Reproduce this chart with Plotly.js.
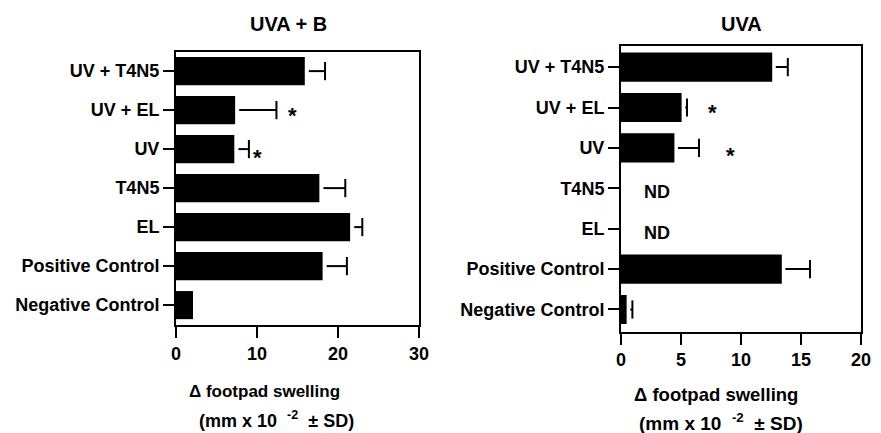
<!DOCTYPE html>
<html>
<head>
<meta charset="utf-8">
<script src="https://cdn.plot.ly/plotly-3.0.1.min.js"></script>
<style>html,body{margin:0;padding:0;background:#fff;}#chart{width:881px;height:433px;}</style>
</head>
<body>
<div id="chart"></div>
<script>
// ---- data ----
const categories = ["UV + T4N5", "UV + EL", "UV", "T4N5", "EL", "Positive Control", "Negative Control"];
const uvabMeans = [15.9, 7.3, 7.2, 17.7, 21.5, 18.1, 2.1];
const uvabSD = [2.5, 5.1, 1.8, 3.2, 1.5, 3.0, null];
const uvaMeans = [12.6, 5.05, 4.45, null, null, 13.4, 0.47];
const uvaSD = [1.3, 0.45, 2.05, null, null, 2.35, 0.48];
const uvabStarCats = ["UV + EL", "UV"];
const uvabStarX = [14.4, 10.1];
const uvaStarCats = ["UV + EL", "UV"];
const uvaStarX = [7.6, 9.1];
const uvaNDCats = ["T4N5", "EL"];
const ndX = 3;
const titles = ["UVA + B", "UVA"];
const xTitle1 = "Δ footpad swelling";
const xTitle2 = "(mm x 10\u00A0 <sup>-2</sup>\u00A0 ± SD)";

// ---- styles ----
const FONT = "Liberation Sans, Arial, Helvetica, sans-serif";
const f = (s) => ({family: FONT, size: s, color: "#000", weight: "bold"});

function barTrace(means, xa, ya) {
  return {type: "bar", orientation: "h", x: means, y: categories, xaxis: xa, yaxis: ya,
    marker: {color: "#000", line: {width: 0}}, width: 0.72, hoverinfo: "skip"};
}
// error bar drawn from a small gap after the bar end to mean + SD, with an end cap
function errTrace(means, sds, gapUnits, xa, ya) {
  const ends = means.map((m, i) => (m === null || sds[i] === null) ? null : m + sds[i]);
  const minus = sds.map(s => s === null ? null : Math.max(s - gapUnits, 0));
  return {type: "scatter", mode: "markers", x: ends, y: categories, xaxis: xa, yaxis: ya,
    marker: {symbol: "line-ns", size: 13, color: "#000", line: {color: "#000", width: 2}},
    error_x: {type: "data", symmetric: false, array: sds.map(s => s === null ? null : 0),
      arrayminus: minus, color: "#000", thickness: 2, width: 0},
    hoverinfo: "skip", cliponaxis: false};
}

const traces = [
  barTrace(uvabMeans, "x", "y"),
  errTrace(uvabMeans, uvabSD, 0.5, "x", "y"),
  barTrace(uvaMeans, "x2", "y2"),
  errTrace(uvaMeans, uvaSD, 0.3, "x2", "y2")
];

const axisCommon = {showline: true, linewidth: 2, linecolor: "#000", mirror: true,
  ticks: "outside", ticklen: 11, tickwidth: 2, tickcolor: "#000",
  showgrid: false, zeroline: false, tickfont: f(18), fixedrange: true};

const annotations = [];
annotations.push({xref: "paper", yref: "paper", x: 288/881, y: 1 - 24/433, text: titles[0],
  showarrow: false, font: f(20), xanchor: "center", yanchor: "middle"});
annotations.push({xref: "paper", yref: "paper", x: 741.7/881, y: 1 - 24/433, text: titles[1],
  showarrow: false, font: f(20), xanchor: "center", yanchor: "middle"});
annotations.push({xref: "paper", yref: "paper", x: 264.5/881, y: 1 - 391/433, text: xTitle1,
  showarrow: false, font: f(17), xanchor: "center", yanchor: "middle"});
annotations.push({xref: "paper", yref: "paper", x: 276/881, y: 1 - 419/433, text: xTitle2,
  showarrow: false, font: f(18), xanchor: "center", yanchor: "middle"});
annotations.push({xref: "paper", yref: "paper", x: 716/881, y: 1 - 394/433, text: xTitle1,
  showarrow: false, font: f(18.5), xanchor: "center", yanchor: "middle"});
annotations.push({xref: "paper", yref: "paper", x: 721/881, y: 1 - 422/433, text: xTitle2,
  showarrow: false, font: f(19), xanchor: "center", yanchor: "middle"});
const starShift = [-5, -8];
uvabStarCats.forEach((c, i) => annotations.push({xref: "x", yref: "y", x: uvabStarX[i], y: c,
  text: "*", showarrow: false, font: f(22), yshift: starShift[i]}));
uvaStarCats.forEach((c, i) => annotations.push({xref: "x2", yref: "y2", x: uvaStarX[i], y: c,
  text: "*", showarrow: false, font: f(22), yshift: starShift[i]}));
uvaNDCats.forEach(c => annotations.push({xref: "x2", yref: "y2", x: ndX, y: c,
  text: "ND", showarrow: false, font: f(18), yshift: -4}));

const layout = {
  width: 881, height: 433, margin: {l: 0, r: 0, t: 0, b: 0},
  paper_bgcolor: "#fff", plot_bgcolor: "#fff", showlegend: false,
  xaxis: Object.assign({}, axisCommon, {domain: [176/881, 419/881], range: [0, 30],
    tickvals: [0, 10, 20, 30], anchor: "y"}),
  yaxis: Object.assign({}, axisCommon, {domain: [1 - 325/433, 1 - 52/433], type: "category",
    categoryorder: "array", categoryarray: categories, range: [6.51, -0.49], anchor: "x"}),
  xaxis2: Object.assign({}, axisCommon, {domain: [621/881, 861/881], range: [0, 20],
    tickvals: [0, 5, 10, 15, 20], anchor: "y2"}),
  yaxis2: Object.assign({}, axisCommon, {domain: [1 - 331.7/433, 1 - 45.7/433], type: "category",
    categoryorder: "array", categoryarray: categories, range: [6.55, -0.53], anchor: "x2"}),
  annotations: annotations
};

Plotly.newPlot("chart", traces, layout, {displayModeBar: false, staticPlot: true});
</script>
</body>
</html>
